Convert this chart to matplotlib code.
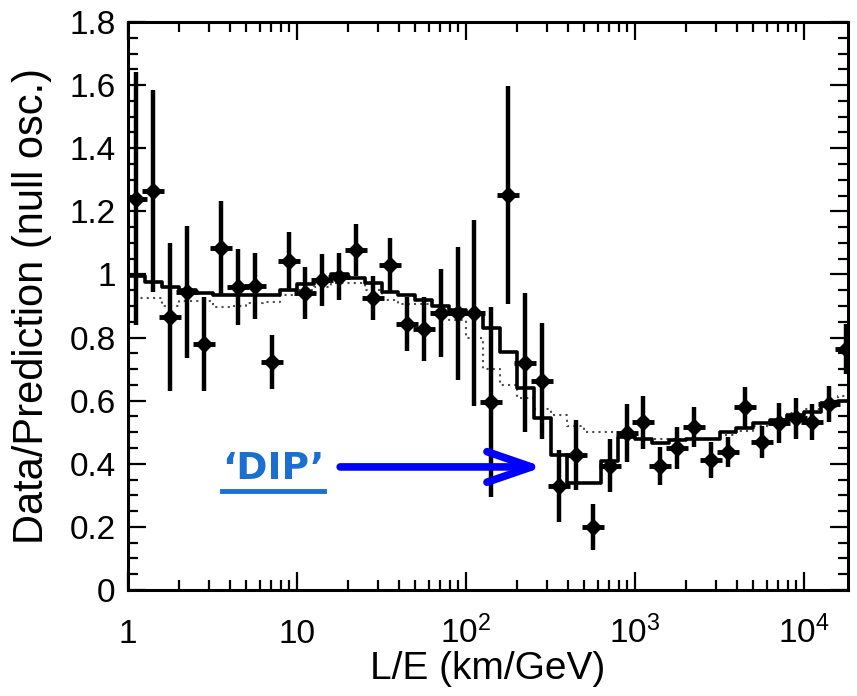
import numpy as np
import matplotlib
matplotlib.use('Agg')
import matplotlib.pyplot as plt
from matplotlib.ticker import FixedLocator, FixedFormatter, MultipleLocator, FormatStrFormatter, LogLocator, NullFormatter
from matplotlib.lines import Line2D

plt.rcParams['font.family'] = ['Liberation Sans', 'DejaVu Sans']
plt.rcParams['mathtext.fontset'] = 'custom'
plt.rcParams['mathtext.rm'] = 'Liberation Sans'

# L/E binning: 0.1 decade bins from 1 km/GeV
le_edges = np.logspace(0, 4.3, 44)
le_centers = np.sqrt(le_edges[:-1] * le_edges[1:])

# data / null-oscillation prediction
ratio = [1.24, 1.265, 0.865, 0.945, 0.78, 1.084, 0.96, 0.964, 0.723, 1.043,
         0.94, 0.983, 0.993, 1.078, 0.925, 1.03, 0.843, 0.827, 0.877, 0.877,
         0.877, 0.596, 1.252, 0.72, 0.662, 0.33, 0.428, 0.20, 0.393, 0.497,
         0.532, 0.393, 0.45, 0.517, 0.412, 0.437, 0.58, 0.469, 0.529, 0.545,
         0.532, 0.59, 0.764]
ratio_err = [0.40, 0.32, 0.235, 0.21, 0.15, 0.15, 0.12, 0.105, 0.085, 0.09,
             0.082, 0.082, 0.075, 0.083, 0.07, 0.085, 0.086, 0.10, 0.14, 0.21,
             0.295, 0.30, 0.345, 0.22, 0.185, 0.115, 0.111, 0.072, 0.084, 0.092,
             0.084, 0.06, 0.066, 0.063, 0.057, 0.048, 0.063, 0.05, 0.063, 0.065,
             0.057, 0.058, 0.08]

# oscillation best fit (solid) and alternative model (dotted)
osc_pred = [0.995, 0.976, 0.96, 0.95, 0.94, 0.935, 0.935, 0.935, 0.935, 0.95,
            0.97, 0.983, 1.0, 0.99, 0.973, 0.945, 0.935, 0.92, 0.90, 0.887,
            0.877, 0.83, 0.755, 0.64, 0.545, 0.428, 0.34, 0.34, 0.41, 0.485,
            0.478, 0.466, 0.475, 0.478, 0.48, 0.50, 0.513, 0.53, 0.54, 0.555,
            0.565, 0.593, 0.60]
alt_pred = [0.925, 0.925, 0.90, 0.915, 0.915, 0.897, 0.90, 0.91, 0.913, 0.935,
            0.95, 0.96, 0.973, 0.973, 0.95, 0.92, 0.905, 0.905, 0.88, 0.856,
            0.80, 0.70, 0.65, 0.61, 0.575, 0.555, 0.52, 0.50, 0.50, 0.49,
            0.48, 0.48, 0.48, 0.48, 0.48, 0.49, 0.505, 0.52, 0.54, 0.56,
            0.575, 0.58, 0.615]

xtick_vals = [1, 10, 100, 1000, 10000]
xtick_labels = ['1', '10', r'$\mathregular{10^{2}}$', r'$\mathregular{10^{3}}$',
                r'$\mathregular{10^{4}}$']

dip_text = '\u2018DIP\u2019'
arrow_from = (18.0, 0.39)
arrow_to = (286, 0.39)
text_pos = (7.2, 0.385)

fig = plt.figure(figsize=(8.57, 6.96), dpi=100)
ax = fig.add_axes([0.1494, 0.1523, 0.8401, 0.8161])

osc_step = list(osc_pred) + [osc_pred[-1]]
alt_step = list(alt_pred) + [alt_pred[-1]]
ax.step(le_edges, alt_step, where='post', color='0.3', lw=1.5, ls=(0, (1, 2)))
ax.step(le_edges, osc_step, where='post', color='black', lw=2.6)

ax.errorbar(le_centers, ratio, yerr=ratio_err, fmt='D', color='black',
            ms=8, elinewidth=3.2, capsize=0)
ax.plot(le_centers, ratio, ls='none', marker='_', ms=16, mew=3.5, color='black')

ax.set_xscale('log')
ax.set_xlim(1, 18200)
ax.set_ylim(0, 1.8)

ax.xaxis.set_major_locator(FixedLocator(xtick_vals))
ax.xaxis.set_major_formatter(FixedFormatter(xtick_labels))
ax.xaxis.set_minor_locator(LogLocator(base=10, subs=np.arange(2, 10), numticks=20))
ax.xaxis.set_minor_formatter(NullFormatter())
ax.yaxis.set_major_locator(MultipleLocator(0.2))
ax.yaxis.set_minor_locator(MultipleLocator(0.05))
ax.yaxis.set_major_formatter(FormatStrFormatter('%g'))

ax.tick_params(which='both', direction='in', top=True, right=True, width=1.6)
ax.tick_params(which='major', length=13)
ax.tick_params(which='minor', length=7)
ax.tick_params(axis='y', labelsize=24, pad=9)
ax.tick_params(axis='x', labelsize=24, pad=38)
plt.setp(ax.get_xticklabels(), va='baseline')
for sp in ax.spines.values():
    sp.set_linewidth(2.2)

ax.set_xlabel('L/E (km/GeV)', fontsize=28)
ax.set_ylabel('Data/Prediction (null osc.)', fontsize=30)
ax.xaxis.set_label_coords(0.5, -0.108)
ax.yaxis.set_label_coords(-0.105, 0.5)

ax.annotate('', xy=arrow_to, xytext=arrow_from,
            arrowprops=dict(arrowstyle='->, head_length=3.2, head_width=1.1',
                            mutation_scale=10, lw=5.5, color='#0000ff',
                            shrinkA=0, shrinkB=0))
txt = ax.text(text_pos[0], text_pos[1], dip_text, fontsize=27, fontweight='bold',
              color='#1a6fd0', ha='center', va='center',
              family=['DejaVu Sans'])

fig.canvas.draw()
bb = txt.get_window_extent()
fig.add_artist(Line2D([bb.x0, bb.x1], [bb.y0 - 4, bb.y0 - 4], transform=None,
                      color='#1a6fd0', lw=3.5))

fig.savefig('out.png', dpi=100)
